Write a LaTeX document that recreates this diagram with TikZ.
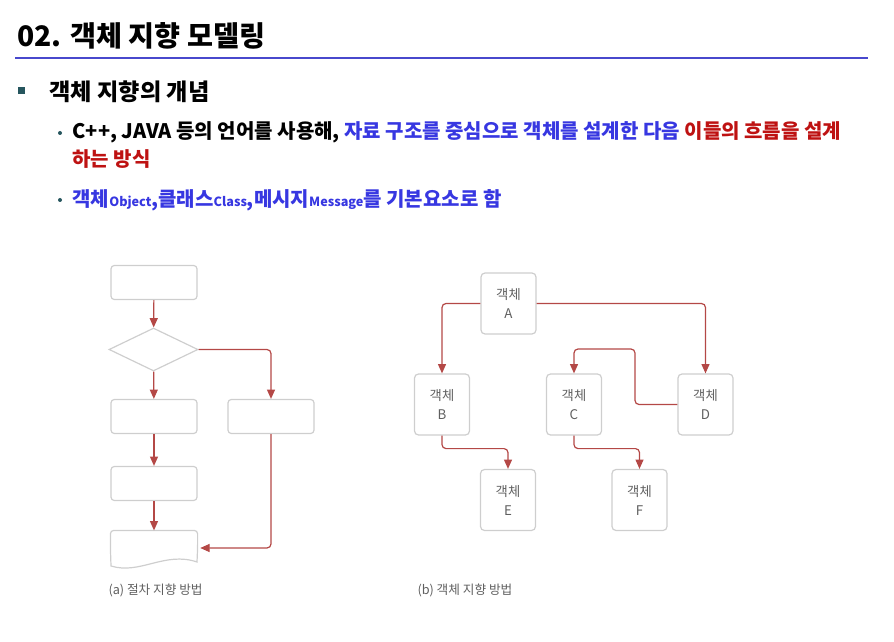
\documentclass[tikz,border=0pt]{standalone}
\usepackage{fontspec}
\setmainfont{Noto Sans CJK KR}
\usetikzlibrary{shapes.geometric,arrows.meta}

\definecolor{rulebl}{RGB}{72,72,205}
\definecolor{bullett}{RGB}{38,86,94}
\definecolor{txtbl}{RGB}{55,55,225}
\definecolor{txtrd}{RGB}{190,18,18}
\definecolor{boxgr}{RGB}{206,206,206}
\definecolor{labgr}{RGB}{95,95,95}
\definecolor{linerd}{RGB}{180,72,70}

\tikzset{every picture/.style={line width=0.75pt}}
\tikzset{
  flowbox/.style={draw=boxgr, line width=0.9pt, rounded corners=2.5pt, minimum width=64.5pt, minimum height=25.5pt, inner sep=0pt},
  decbox/.style={draw=boxgr, line width=0.9pt, diamond, minimum width=66.75pt, minimum height=32.25pt, inner sep=0pt},
  objbox/.style={draw=boxgr, line width=0.9pt, rounded corners=3pt, minimum width=41.25pt, minimum height=45.75pt, inner sep=0pt, align=center, text=labgr, font=\fontsize{10}{14.25}\selectfont},
  flow/.style={draw=linerd, line width=0.9pt, rounded corners=3pt, -{Triangle[width=6pt,length=7pt]}},
  caption/.style={anchor=west, inner sep=0pt, text=labgr, font=\fontsize{9.5}{11}\selectfont}
}

\begin{document}
\begin{tikzpicture}[x=0.75pt,y=0.75pt,yscale=-1]
	\useasboundingbox (0,0) rectangle (894,642);
	
	% Title
	\node [anchor=west, inner sep=0pt] (title) at (17,36) {\fontsize{21.2}{25}\selectfont\bfseries 02. 객체 지향 모델링};
	%Straight Lines
	\draw [rulebl, line width=1.5pt] (15,58) -- (868,58);
	
	% Bullets
	\fill [bullett] (18,87) rectangle (25,94);
	\fill [bullett] (60,133) circle (2);
	\fill [bullett] (60,200) circle (2);
	
	% Text Node
	\node [anchor=west, inner sep=0pt] (head) at (49,92) {\fontsize{17.4}{20}\selectfont\bfseries 객체 지향의 개념};
	% Text Node
	\node [anchor=west, inner sep=0pt] (lineone) at (72,132) {\fontsize{15}{18}\selectfont\bfseries C++, JAVA 등의 언어를 사용해, \textcolor{txtbl}{자료 구조를 중심으로 객체를 설계한 다음} \textcolor{txtrd}{이들의 흐름을 설계}};
	% Text Node
	\node [anchor=west, inner sep=0pt, text=txtrd] (linetwo) at (72,159) {\fontsize{15}{18}\selectfont\bfseries 하는 방식};
	% Text Node
	\node [anchor=west, inner sep=0pt, text=txtbl] (linethree) at (72,200) {\fontsize{15}{18}\selectfont\bfseries 객체{\fontsize{9.5}{12}\selectfont Object},클래스{\fontsize{9.5}{12}\selectfont Class},메시지{\fontsize{9.5}{12}\selectfont Message}를 기본요소로 함};
	
	% (a) flowchart
	\node [flowbox] (pone) at (154,282.5) {};
	\node [decbox] (dec) at (153.5,349.5) {};
	\node [flowbox] (ptwo) at (154,416.5) {};
	\node [flowbox] (pthree) at (271,416.5) {};
	\node [flowbox] (pfour) at (154,483.5) {};
	\node [flowbox, draw=none] (doc) at (154,548) {};
	%Document shape
	\draw [boxgr, line width=0.9pt, rounded corners=2.5pt] (doc.west) -- (doc.north west) -- (doc.north east) -- (doc.east) [sharp corners] -- (197,562) .. controls (165,551) and (140,575) .. (111,566) [rounded corners=2.5pt] -- (doc.west);
	
	\draw [flow] (pone) -- (dec);
	\draw [flow] (dec) -- (ptwo);
	\draw [flow] (dec.east) -| (pthree.north);
	\draw [flow] (ptwo) -- (pfour);
	\draw [flow] (pfour) -- (doc);
	\draw [flow, shorten >=2pt] (pthree.south) |- (doc.east);
	
	% (b) objects
	\node [objbox] (oa) at (508.5,303.5) {객체\\A};
	\node [objbox] (ob) at (442,404.5) {객체\\B};
	\node [objbox] (oc) at (574,404.5) {객체\\C};
	\node [objbox] (od) at (705.5,404.5) {객체\\D};
	\node [objbox] (oe) at (508,500) {객체\\E};
	\node [objbox] (of) at (639.5,500) {객체\\F};
	\coordinate (dturn) at (635,349);
	
	\draw [flow] (oa.west) -| (ob.north);
	\draw [flow] (oa.east) -| (od.north);
	\draw [flow] (od.west) -| (dturn) -| (oc.north);
	\draw [flow] (ob.south) -- ++(0,13) -| (oe.north);
	\draw [flow] (oc.south) -- ++(0,13) -| (of.north);
	
	% Captions
	\node [caption] (capa) at (108,590) {(a) 절차 지향 방법};
	\node [caption] (capb) at (417,590) {(b) 객체 지향 방법};
	
\end{tikzpicture}
\end{document}
